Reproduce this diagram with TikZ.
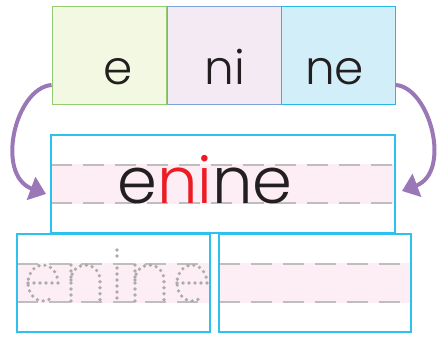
\documentclass[tikz,border=0pt]{standalone}
\usepackage{fontspec}
\IfFontExistsTF{Poppins Light}{\setmainfont{Poppins Light}}{\setmainfont{Poppins}}
\usetikzlibrary{arrows.meta, positioning}
\definecolor{leaffill}{HTML}{F3F8E2}
\definecolor{leafedge}{HTML}{94CC72}
\definecolor{lilacfill}{HTML}{F4EAF3}
\definecolor{lilacedge}{HTML}{7EA2DA}
\definecolor{icefill}{HTML}{D2EEF9}
\definecolor{iceedge}{HTML}{27B8EA}
\definecolor{skyline}{HTML}{2EC1EE}
\definecolor{blush}{HTML}{FDEDF4}
\definecolor{guidegray}{HTML}{BEBEBE}
\definecolor{dotgray}{HTML}{ABABAB}
\definecolor{plum}{HTML}{9A77B6}
\definecolor{alarm}{HTML}{ED1C24}
\definecolor{ink}{HTML}{231F20}

\begin{document}
\begin{tikzpicture}[x=1pt, y=-1pt, text=ink,
    tile/.style={draw, line width=0.9pt, minimum width=114pt, minimum height=98pt, inner sep=0pt},
    frame/.style={draw=skyline, line width=1.3pt, inner sep=0pt, minimum height=98pt},
    guide/.style={draw=guidegray, line width=1.2pt, dash pattern=on 21pt off 11pt},
    tracer/.style={draw=dotgray, line width=3.6pt, line cap=round, dash pattern=on 0pt off 6pt},
    curl/.style={draw=plum, line width=4pt, -{Triangle[length=16pt, width=24pt]}}]
        \useasboundingbox (0,0) rectangle (446,340);
        % syllable tiles
        \foreach \i/\x/\fc/\dc in {1/109/leaffill/leafedge, 2/224/lilacfill/lilacedge, 3/338.5/icefill/iceedge} {
            \node[tile, fill=\fc, draw=\dc] (t\i) at (\x, 55) {};
        }
        \foreach \i/\x/\s in {1/118.5/e, 2/225/ni, 3/334.5/ne} {
            \node[anchor=base, inner sep=0pt, font=\fontsize{47}{47}\selectfont] (s\i) at (\x, 84) {\s};
        }
        % writing bands
        \fill[blush] (51,164) rectangle (395,204);
        \fill[blush] (17,263) rectangle (210,303);
        \fill[blush] (219,263) rectangle (411,303);
        \foreach \y in {165, 203} {
            \draw[guide] (51,\y) -- (395,\y);
        }
        \foreach \y in {264, 302} {
            \draw[guide] (17,\y) -- (210,\y);
            \draw[guide] (219,\y) -- (411,\y);
        }
        \node[frame, minimum width=344pt] (word) at (223, 184) {};
        \node[frame, minimum width=193pt] (trace) at (113.5, 283) {};
        \node[frame, minimum width=192pt] (blank) at (315, 283) {};
        \node[anchor=base, inner sep=0pt, font=\fontsize{64}{64}\selectfont] (full) at (205, 203) {e\textcolor{alarm}{ni}ne};
        % dotted letters to trace
        \foreach \dx in {0, 149} {
            \draw[tracer] (28+\dx,283) -- (58+\dx,283) arc[start angle=0, end angle=-310, x radius=15, y radius=18];
        }
        \foreach \dx in {0, 64} {
            \draw[tracer] (71+\dx,265) -- (71+\dx,303);
            \draw[tracer] (71+\dx,280) arc[start angle=180, end angle=360, x radius=14.5, y radius=15] -- (100+\dx,303);
        }
        \draw[tracer] (117,268) -- (117,303);
        \draw[tracer] (117,250) -- (117,256);
        % arrows
        \coordinate (lhit) at (46,194);
        \coordinate (rhit) at (402,191);
        \draw[curl] ([yshift=-30pt]t1.west) .. controls (15,88) and (-5,175) .. (lhit);
        \draw[curl] ([yshift=-30pt]t3.east) .. controls (430,88) and (452,172) .. (rhit);
    \end{tikzpicture}
\end{document}
